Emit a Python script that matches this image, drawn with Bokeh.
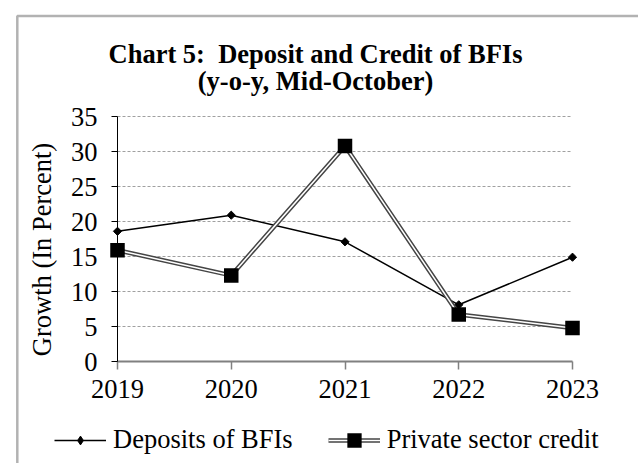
import math
from bokeh.plotting import figure
from bokeh.models import (Range1d, FixedTicker, Legend, LegendItem, Label,
                          BoxAnnotation, ColumnDataSource)
from bokeh.embed import file_html
from bokeh.resources import INLINE

years = [2019, 2020, 2021, 2022, 2023]
deposits = [18.6, 20.9, 17.1, 8.1, 14.9]
credit = [15.9, 12.3, 30.8, 6.7, 4.8]
y_ticks = [0, 5, 10, 15, 20, 25, 30, 35]
title_line1 = "Chart 5:\u00a0 Deposit and Credit of BFIs"
title_line2 = "(y-o-y, Mid-October)"
y_label = "Growth (In Percent)"
series_names = ["Deposits of BFIs", "Private sector credit"]

FONT = "Liberation Serif"
FS = "26.5px"

# canvas geometry (pixels): plot area spans x 117..572, y 116..361
W, H = 638, 463
X0PX, X1PX, Y0PX, Y1PX = 117, 572, 361, 116
kx = (X1PX - X0PX) / (years[-1] - years[0])
ky = (Y0PX - Y1PX) / (y_ticks[-1] - y_ticks[0])


def dx(px):
    return years[0] + (px - X0PX) / kx


def dy(py):
    return y_ticks[0] + (Y0PX - py) / ky


p = figure(width=W, height=H, output_backend="svg", toolbar_location=None,
           x_range=Range1d(dx(0), dx(W)), y_range=Range1d(dy(H), dy(0)),
           min_border_left=0, min_border_right=0, min_border_top=0,
           min_border_bottom=0, title=None)
p.outline_line_color = None
p.background_fill_color = "white"
p.border_fill_color = "white"

# axes at fixed positions
p.xaxis.ticker = FixedTicker(ticks=years)
p.yaxis.ticker = FixedTicker(ticks=y_ticks)
p.xaxis.bounds = (years[0], years[-1])
p.yaxis.bounds = (y_ticks[0], y_ticks[-1])
p.xaxis.fixed_location = y_ticks[0]
p.yaxis.fixed_location = years[0]
for ax in (p.xaxis, p.yaxis):
    ax.major_label_text_font = FONT
    ax.major_label_text_font_size = FS
    ax.major_label_text_color = "black"
    ax.minor_tick_line_color = None
    ax.major_tick_in = 0
p.xaxis.axis_line_color = "#808080"
p.xaxis.axis_line_width = 2
p.xaxis.major_tick_line_color = "#808080"
p.xaxis.major_tick_line_width = 1.5
p.xaxis.major_tick_out = 8
p.xaxis.major_label_standoff = 10
p.yaxis.axis_line_color = "black"
p.yaxis.major_tick_line_color = "black"
p.yaxis.major_tick_out = 6
p.yaxis.major_label_standoff = 14

p.xgrid.grid_line_color = None
p.ygrid.grid_line_color = None

# dashed gridlines spanning the axis extent
grid_src = ColumnDataSource(dict(y=y_ticks[1:],
                                 x0=[years[0]] * (len(y_ticks) - 1),
                                 x1=[years[-1]] * (len(y_ticks) - 1)))
p.segment(x0="x0", x1="x1", y0="y", y1="y", source=grid_src,
          line_color="#a0a0a0", line_dash="3 2", line_width=1)

# series
src = ColumnDataSource(dict(x=years, dep=deposits, cred=credit))
dep_line = p.line("x", "dep", source=src, line_color="black", line_width=1.5)
dep_leg = p.scatter("x", "dep", source=src, marker="diamond", size=0,
                    fill_color="black", line_color="black", line_width=1)
dep_pts = p.scatter("x", "dep", source=src, marker="square", size=5.8,
                    angle=math.pi / 4, fill_color="black", line_color="black")
cred_outer = p.line("x", "cred", source=src, line_color="#454545", line_width=4.5)
cred_inner = p.line("x", "cred", source=src, line_color="white", line_width=1.5)
cred_pts = p.scatter("x", "cred", source=src, marker="square", size=9,
                     fill_color="black", line_color="black", line_width=5.5,
                     line_join="miter")

legend = Legend(items=[LegendItem(label=series_names[0], renderers=[dep_line, dep_leg]),
                       LegendItem(label=series_names[1],
                                  renderers=[cred_outer, cred_inner, cred_pts])],
                orientation="horizontal", location=(54, 8),
                glyph_width=52, glyph_height=22, label_height=30,
                label_standoff=7, spacing=35, padding=0, margin=0,
                label_text_font=FONT, label_text_font_size=FS,
                label_text_color="black",
                border_line_color=None, background_fill_alpha=0)
p.add_layout(legend, "center")

# titles
p.add_layout(Label(x=dx(315), y=dy(53), text=title_line1, text_align="center",
                   text_baseline="alphabetic", text_font=FONT, text_font_size=FS,
                   text_font_style="bold", text_color="black"))
p.add_layout(Label(x=dx(315), y=dy(80), text=title_line2, text_align="center",
                   text_baseline="alphabetic", text_font=FONT, text_font_size=FS,
                   text_font_style="bold", text_color="black"))
# y label
p.add_layout(Label(x=dx(41), y=dy(249), text=y_label, text_align="center",
                   text_baseline="alphabetic", angle=math.pi / 2,
                   text_font=FONT, text_font_size=FS, text_color="black"))

# outer frame of the chart
p.add_layout(BoxAnnotation(left=16.8, right=W + 20, top=15.5, bottom=H + 20,
                           left_units="canvas", right_units="canvas",
                           top_units="canvas", bottom_units="canvas",
                           fill_alpha=0, line_color="black", line_width=2.5))

open("out.html", "w").write(file_html(p, INLINE))
